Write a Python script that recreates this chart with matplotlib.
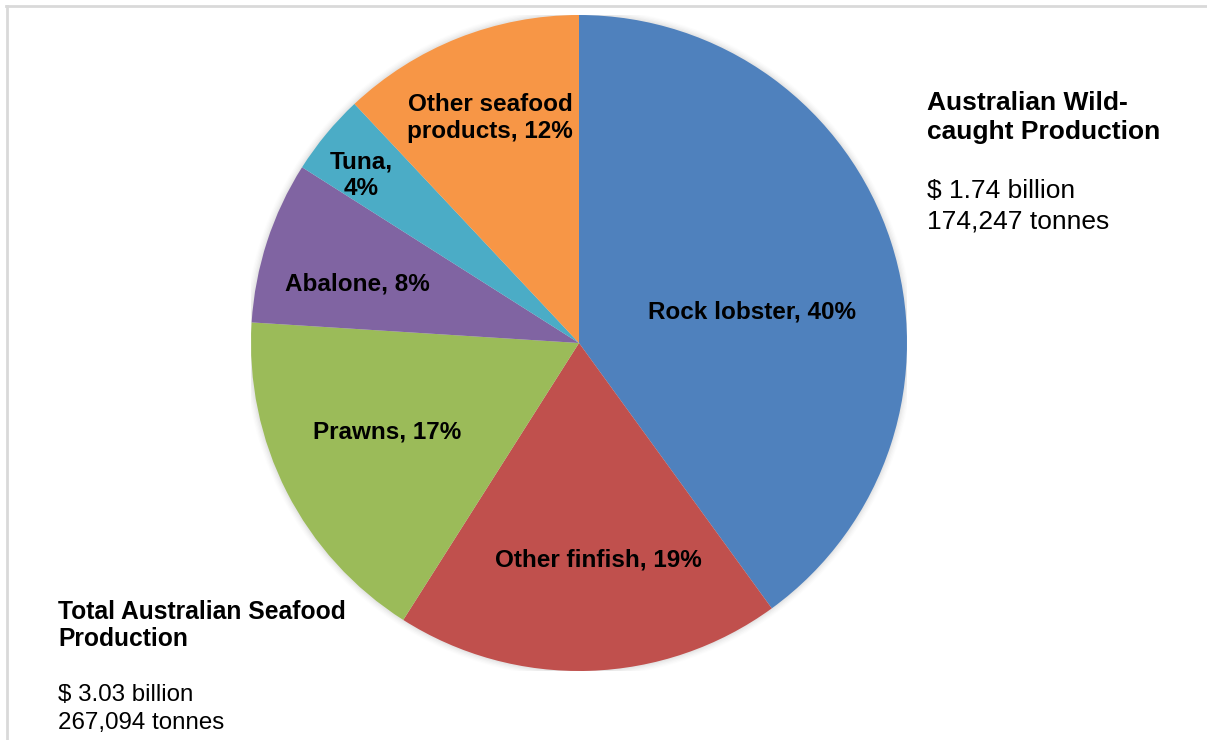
import matplotlib.pyplot as plt
from matplotlib.lines import Line2D
from matplotlib.patches import Circle

plt.rcParams['font.family'] = ['Liberation Sans', 'DejaVu Sans']

# data
categories = ['Rock lobster', 'Other finfish', 'Prawns', 'Abalone', 'Tuna', 'Other seafood\nproducts']
shares = [40, 19, 17, 8, 4, 12]
colors = ['#4F81BD', '#C0504D', '#9BBB59', '#8064A2', '#4BACC6', '#F79646']

# label positions inside the pie (in units of the radius)
label_pos = [(0.527, 0.095), (0.058, -0.662), (-0.585, -0.271),
             (-0.677, 0.180), (-0.665, 0.512), (-0.271, 0.686)]
label_text = ['Rock lobster, 40%', 'Other finfish, 19%', 'Prawns, 17%',
              'Abalone, 8%', 'Tuna,\n4%', 'Other seafood\nproducts, 12%']

W, H = 1207, 740
fig = plt.figure(figsize=(W / 100, H / 100), dpi=100)

# pie centre and radius in pixels
cx, cy, r = 579, 343, 328
ax = fig.add_axes([(cx - r) / W, (H - cy - r) / H, 2 * r / W, 2 * r / H])
ax.set_xlim(-1, 1)
ax.set_ylim(-1, 1)
ax.set_aspect('equal')
ax.axis('off')

# soft shadow
for i, a in enumerate([0.05, 0.05, 0.04, 0.03, 0.02]):
    ax.add_patch(Circle((0, 0), 1 + 0.004 * (i + 1), color='gray', alpha=a, lw=0, zorder=0))

ax.pie(shares, colors=colors, startangle=90, counterclock=False, radius=1,
       wedgeprops=dict(linewidth=0, zorder=1))
ax.set_xlim(-1, 1)
ax.set_ylim(-1, 1)

for (x, y), t in zip(label_pos, label_text):
    ax.text(x, y, t, ha='center', va='center', fontsize=17.5, fontweight='bold',
            linespacing=1.2, zorder=3)


def px_text(x, y, s, bold=False, size=18):
    fig.text(x / W, 1 - y / H, s, ha='left', va='center', fontsize=size,
             fontweight='bold' if bold else 'normal')


px_text(927, 103, 'Australian Wild-', bold=True, size=19)
px_text(927, 132, 'caught Production', bold=True, size=19)
px_text(927, 191, '$ 1.74 billion', size=19)
px_text(927, 222, '174,247 tonnes', size=19)

px_text(58, 612, 'Total Australian Seafood', bold=True, size=17.7)
px_text(58, 639, 'Production', bold=True, size=17.7)
px_text(58, 695, '$ 3.03 billion', size=17.4)
px_text(58, 723, '267,094 tonnes', size=17.4)

# frame (top and left edges visible)
fig.add_artist(Line2D([6 / W, 1], [1 - 6 / H, 1 - 6 / H], color='#d9d9d9', lw=2))
fig.add_artist(Line2D([7 / W, 7 / W], [0, 1 - 6 / H], color='#d9d9d9', lw=2))

fig.savefig('out.png', dpi=100, facecolor='white')
